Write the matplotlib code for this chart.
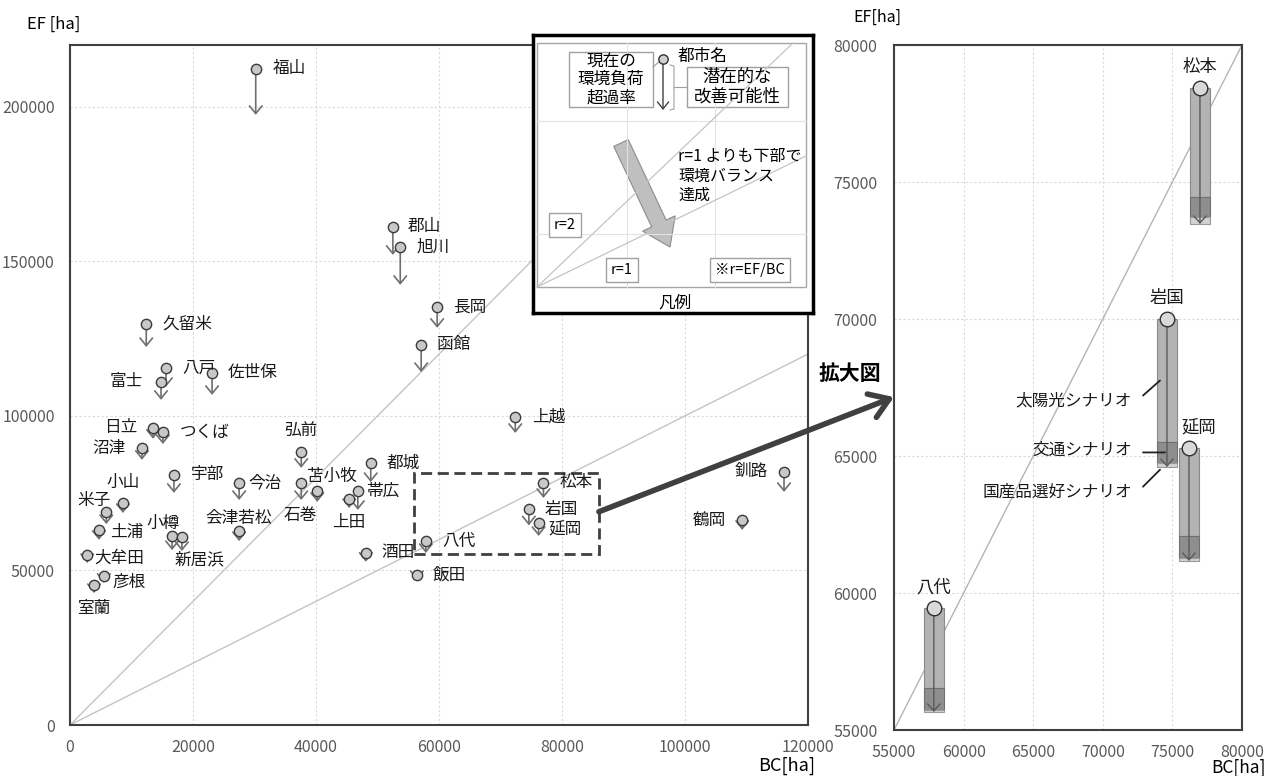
import numpy as np
import matplotlib.pyplot as plt
from matplotlib.patches import Rectangle, FancyArrow, ConnectionPatch

plt.rcParams['font.family'] = ['Noto Sans CJK JP', 'DejaVu Sans']

# main chart data: BC, current EF, EF after all scenarios
cities = ['福山', '郡山', '旭川', '長岡', '函館', '上越', '弘前', '都城', '苫小牧', '石巻',
          '帯広', '上田', '酒田', '飯田', '八代', '松本', '岩国', '延岡', '釧路', '鶴岡',
          '久留米', '八戸', '富士', '佐世保', '日立', 'つくば', '沼津', '宇部', '今治', '小山',
          '米子', '土浦', '小樽', '新居浜', '会津若松', '大牟田', '彦根', '室蘭']
bc = [30200, 52500, 53700, 59700, 57100, 72400, 37600, 48900, 37600, 40200,
      46800, 45400, 48100, 56400, 57860, 76980, 74610, 76190, 116100, 109300,
      12400, 15600, 14800, 23100, 13500, 15100, 11700, 16900, 27500, 8600,
      5900, 4700, 16600, 18200, 27500, 2800, 5500, 3900]
ef = [212300, 161200, 154700, 135300, 123000, 99700, 88300, 84800, 78300, 75700,
      75700, 73100, 55700, 48500, 59450, 78430, 70000, 65290, 81900, 66300,
      129800, 115500, 111000, 113900, 96100, 94800, 89600, 80900, 78300, 71800,
      68900, 63100, 61200, 60800, 62800, 55000, 48200, 45300]
ef_low = [197400, 152100, 142400, 128500, 114200, 94500, 83200, 78600, 72800, 72200,
          69600, 70200, 52800, 46900, 55660, 73470, 64600, 61170, 75400, 63100,
          122300, 109400, 105200, 106800, 92600, 90900, 85800, 75100, 72800, 68600,
          65000, 59900, 56600, 56300, 59500, 52400, 46000, 42700]

# label placement (pixel offset from marker, y downwards, alignment)
lab_pos = {'福山': (17, 0, 'left'), '郡山': (15, 0, 'left'), '旭川': (16, 0, 'left'),
           '長岡': (16, 0, 'left'), '函館': (16, 0, 'left'), '上越': (17, 0, 'left'),
           '弘前': (0, -22, 'center'), '都城': (16, 0, 'left'), '苫小牧': (6, -7, 'left'),
           '石巻': (-17, 24, 'center'), '帯広': (8, 0, 'left'), '上田': (0, 23, 'center'),
           '酒田': (16, 0, 'left'), '飯田': (16, 0, 'left'), '八代': (16, 0, 'left'),
           '松本': (16, 0, 'left'), '岩国': (16, 1, 'left'), '延岡': (10, 7, 'left'),
           '釧路': (-16, 0, 'right'), '鶴岡': (-16, 0, 'right'), '久留米': (16, 0, 'left'),
           '八戸': (16, 0, 'left'), '富士': (-18, 0, 'right'), '佐世保': (16, 0, 'left'),
           '日立': (-16, 0, 'right'), 'つくば': (17, 0, 'left'), '沼津': (-16, 0, 'right'),
           '宇部': (17, 0, 'left'), '今治': (9, 0, 'left'), '小山': (0, -21, 'center'),
           '米子': (-12, -12, 'center'), '土浦': (11, 3, 'left'), '小樽': (-9, -12, 'center'),
           '新居浜': (18, 23, 'center'), '会津若松': (0, -12, 'center'), '大牟田': (7, 3, 'left'),
           '彦根': (9, 6, 'left'), '室蘭': (0, 24, 'center')}

r_vals = [1, 2]

# zoomed chart data
z_cities = ['八代', '岩国', '延岡', '松本']
z_bc = [57860, 74610, 76190, 76980]
z_ef = [59450, 70000, 65290, 78430]
z_solar = [56530, 65510, 62080, 74450]
z_traffic = [55730, 64750, 61280, 73720]
z_domestic = [55660, 64600, 61170, 73470]
z_lab_dx = [0, 0, 10, 0]

W, H = 1269, 776
fig = plt.figure(figsize=(W / 100, H / 100), dpi=100)
ax = fig.add_axes([70 / W, 51 / H, 738 / W, 680 / H])
az = fig.add_axes([894 / W, 46 / H, 348 / W, 685 / H])
lg = fig.add_axes([533 / W, (H - 313) / H, 280 / W, 278 / H])

tick_col = '#595959'
grid_kw = dict(color='#d9d9d9', linestyle=(0, (2, 2)), lw=0.8)
lab_fs = 12

# ---- main chart ----
ax.set_xlim(0, 120000)
ax.set_ylim(0, 220000)
ax.set_xticks(np.arange(0, 120001, 20000))
ax.set_yticks(np.arange(0, 200001, 50000))
ax.grid(True, **grid_kw)
ax.set_axisbelow(True)
ax.tick_params(length=0, labelsize=11.5, labelcolor=tick_col)
ax.tick_params(axis='y', pad=11)
ax.tick_params(axis='x', pad=10)
for s in ax.spines.values():
    s.set_color('#404040')
    s.set_linewidth(1.5)

xs = np.array([0, 120000])
for r in r_vals:
    ax.plot(xs, r * xs, color='#c4c4c4', lw=1, zorder=1)

for c, x, y0, y1 in zip(cities, bc, ef, ef_low):
    ax.annotate('', xy=(x, y1), xytext=(x, y0),
                arrowprops=dict(arrowstyle='->,head_length=0.55,head_width=0.45',
                                color='#6f6f6f', lw=1.2, shrinkA=0, shrinkB=0,
                                mutation_scale=10), zorder=3)
    dx, dy, ha = lab_pos[c]
    ax.annotate(c, (x, y0), xytext=(dx, -dy), textcoords='offset pixels',
                ha=ha, va='center', fontsize=lab_fs, color='#1a1a1a', zorder=5)
ax.scatter(bc, ef, s=55, c='#c8c8c8', edgecolors='#3a3a3a', linewidths=1, zorder=4)

ax.add_patch(Rectangle((56000, 55300), 30000, 26300, fill=False, ec='#404040',
                       lw=2, ls=(0, (4, 2)), zorder=2))

# ---- zoomed chart ----
az.set_xlim(55000, 80000)
az.set_ylim(55000, 80000)
az.set_xticks(np.arange(55000, 80001, 5000))
az.set_yticks(np.arange(55000, 80001, 5000))
az.grid(True, **grid_kw)
az.set_axisbelow(True)
az.tick_params(length=0, labelsize=11.5, labelcolor=tick_col)
az.tick_params(axis='y', pad=12)
az.tick_params(axis='x', pad=10)
for s in az.spines.values():
    s.set_color('#404040')
    s.set_linewidth(1.5)
zs = np.array([55000, 80000])
az.plot(zs, zs, color='#b4b4b4', lw=1, zorder=1)

bw = 1400
for i in range(len(z_cities)):
    x = z_bc[i]
    az.bar(x, z_ef[i] - z_solar[i], bottom=z_solar[i], width=bw,
           color='#b3b3b3', edgecolor='#8a8a8a', lw=0.8, zorder=2)
    az.bar(x, z_solar[i] - z_traffic[i], bottom=z_traffic[i], width=bw,
           color='#8e8e8e', edgecolor='#707070', lw=0.8, zorder=2)
    az.bar(x, z_traffic[i] - z_domestic[i], bottom=z_domestic[i], width=bw,
           color='#d2d2d2', edgecolor='#9a9a9a', lw=0.8, zorder=2)
    az.annotate('', xy=(x, z_domestic[i]), xytext=(x, z_ef[i]),
                arrowprops=dict(arrowstyle='->,head_length=0.5,head_width=0.45',
                                color='#5a5a5a', lw=1, shrinkA=0, shrinkB=0,
                                mutation_scale=10), zorder=3)
    az.annotate(z_cities[i], (x, z_ef[i]), xytext=(z_lab_dx[i], 21),
                textcoords='offset pixels', ha='center', va='center',
                fontsize=12.5, color='#1a1a1a')
az.scatter(z_bc, z_ef, s=110, c='#d9d9d9', edgecolors='#303030', linewidths=1, zorder=4)

# scenario callouts on 岩国
k = 1
x0 = z_bc[k]
callouts = [('太陽光シナリオ', (x0 - 500, (z_ef[k] + z_solar[k]) / 2), (-17, -15), (-28, -20)),
            ('交通シナリオ', (x0 - 140, (z_solar[k] + z_traffic[k]) / 2), (-22, 0), (-33, 2)),
            ('国産品選好シナリオ', (x0 - 500, z_domestic[k] - 100), (-17, -17), (-28, -22))]
for txt, xy, lo, to in callouts:
    az.annotate('', xy=xy, xytext=lo, textcoords='offset pixels',
                arrowprops=dict(arrowstyle='-', color='#202020', lw=1.3,
                                shrinkA=0, shrinkB=0))
    az.annotate(txt, xy, xytext=to, textcoords='offset pixels', ha='right',
                va='center', fontsize=12, color='#1a1a1a')

con = ConnectionPatch(xyA=(86000, 69000), coordsA=ax.transData,
                      xyB=(55000, 67150), coordsB=az.transData,
                      arrowstyle='->,head_length=0.45,head_width=0.3',
                      mutation_scale=30, lw=4, color='#404040', zorder=5)
fig.add_artist(con)

# ---- legend panel ----
lg.set_xlim(0, 280)
lg.set_ylim(278, 0)
lg.set_xticks([])
lg.set_yticks([])
lg.set_facecolor('white')
for s in lg.spines.values():
    s.set_color('black')
    s.set_linewidth(2.5)
lg.add_patch(Rectangle((4, 8), 269, 244, fill=False, ec='#a6a6a6', lw=1))
for gx in [94, 182]:
    lg.plot([gx, gx], [8, 252], color='#e3e3e3', lw=0.8)
for gy in [86, 199]:
    lg.plot([4, 273], [gy, gy], color='#e3e3e3', lw=0.8)
lg.plot([4, 260], [252, 8], color='#c4c4c4', lw=0.9)
lg.plot([4, 273], [252, 121], color='#c4c4c4', lw=0.9)

box_kw = dict(fill=True, fc='white', ec='#a0a0a0', lw=1)
lg.add_patch(Rectangle((36, 17), 84, 55, **box_kw))
lg.text(78, 44.5, '現在の\n環境負荷\n超過率', ha='center', va='center', fontsize=12,
        linespacing=1.1)
lg.plot([120, 127], [32, 26], color='#a0a0a0', lw=0.8)
lg.annotate('', xy=(130, 75), xytext=(130, 24),
            arrowprops=dict(arrowstyle='->,head_length=0.5,head_width=0.4',
                            color='#404040', lw=1, shrinkA=0, shrinkB=0, mutation_scale=10))
lg.scatter([130], [24], s=45, c='#d0d0d0', edgecolors='#303030', linewidths=1, zorder=4)
lg.plot([137, 141, 141, 137], [30, 31, 74, 75], color='#a0a0a0', lw=0.8)
lg.plot([141, 154], [52, 52], color='#a0a0a0', lw=0.8)
lg.add_patch(Rectangle((154, 32), 101, 40, **box_kw))
lg.text(204.5, 52, '潜在的な\n改善可能性', ha='center', va='center', fontsize=12.5,
        linespacing=1.1)
lg.text(145, 21, '都市名', ha='left', va='center', fontsize=12)

lg.add_patch(FancyArrow(88, 108, 49, 104, width=16, head_width=36, head_length=26,
                        length_includes_head=True, fc='#bfbfbf', ec='#8c8c8c', lw=0.8))
lg.text(145, 113, 'r=1 よりも下部で\n環境バランス\n達成', ha='left', va='top',
        fontsize=11.5, linespacing=1.2)

lab_box = dict(boxstyle='square,pad=0.35', fc='white', ec='#a0a0a0', lw=1)
lg.text(32, 190, 'r=2', ha='center', va='center', fontsize=10.5, bbox=lab_box)
lg.text(89, 235, 'r=1', ha='center', va='center', fontsize=10.5, bbox=lab_box)
lg.text(217, 235, '※r=EF/BC', ha='center', va='center', fontsize=10.5, bbox=lab_box)
lg.text(142, 268, '凡例', ha='center', va='center', fontsize=12)

# ---- figure texts ----
def ftext(x, y, s, **kw):
    fig.text(x / W, 1 - y / H, s, **kw)

ftext(54, 24, 'EF [ha]', ha='center', va='center', fontsize=12)
ftext(787, 766, 'BC[ha]', ha='center', va='center', fontsize=13)
ftext(877, 17, 'EF[ha]', ha='center', va='center', fontsize=11.5)
ftext(1266, 768, 'BC[ha]', ha='right', va='center', fontsize=12.5)
ftext(850, 373, '拡大図', ha='center', va='center', fontsize=15, fontweight='bold')

fig.savefig('out.png', dpi=100)
